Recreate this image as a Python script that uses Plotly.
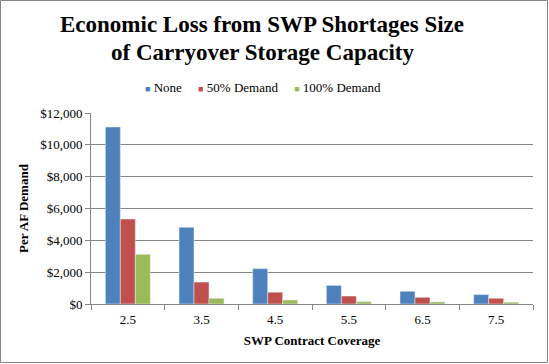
import plotly.graph_objects as go

categories = ["2.5", "3.5", "4.5", "5.5", "6.5", "7.5"]
none_vals = [11120, 4820, 2220, 1170, 800, 590]
half_vals = [5340, 1380, 740, 500, 420, 360]
full_vals = [3120, 360, 250, 150, 130, 110]
y_ticks = [0, 2000, 4000, 6000, 8000, 10000, 12000]
y_tick_labels = ["$0", "$2,000", "$4,000", "$6,000", "$8,000", "$10,000", "$12,000"]
series_names = ["None", "50% Demand", "100% Demand"]
series_colors = ["#4F81BD", "#C0504D", "#9BBB59"]

W, H = 549, 364
L, R, T, B = 91, 16, 113, 60
pw, ph = W - L - R, H - T - B

def px(x):
    return (x - L) / pw

def py(y):
    return (H - B - y) / ph

font = "Liberation Serif, Times New Roman, serif"

fig = go.Figure()
for name, vals, col in zip(series_names, [none_vals, half_vals, full_vals], series_colors):
    fig.add_bar(x=categories, y=vals, name=name, marker_color=col, showlegend=False)

legend_text = "&nbsp;&nbsp;&nbsp;&nbsp;&nbsp;".join(
    f'<span style="color:{c}; font-size:9px">■</span> {n}' for n, c in zip(series_names, series_colors)
)

annotations = [
    dict(text="<b>Economic Loss from SWP Shortages Size</b>", x=px(262), y=py(25),
         xref="paper", yref="paper", showarrow=False, xanchor="center", yanchor="middle",
         font=dict(family=font, size=23, color="black")),
    dict(text="<b>of Carryover Storage Capacity</b>", x=px(262), y=py(53),
         xref="paper", yref="paper", showarrow=False, xanchor="center", yanchor="middle",
         font=dict(family=font, size=23, color="black")),
    dict(text=legend_text, x=px(263), y=py(87),
         xref="paper", yref="paper", showarrow=False, xanchor="center", yanchor="middle",
         font=dict(family=font, size=13, color="black")),
]

fig.update_layout(
    width=W, height=H,
    margin=dict(l=L, r=R, t=T, b=B, autoexpand=False),
    paper_bgcolor="white", plot_bgcolor="white",
    font=dict(family=font, size=13, color="black"),
    barmode="group", bargap=0.39, bargroupgap=0,
    showlegend=False,
    annotations=annotations,
    shapes=[dict(type="rect", xref="paper", yref="paper",
                 x0=px(0.5), x1=px(W - 1.5), y0=py(H - 1.5), y1=py(0.5),
                 line=dict(color="#868686", width=1), layer="above")],
)
fig.update_xaxes(
    tickson="boundaries", ticks="outside", ticklen=5, tickcolor="#868686",
    showline=True, linecolor="#868686", linewidth=1,
    tickfont=dict(family=font, size=13), ticklabelstandoff=3,
    title=dict(text="<b>SWP Contract Coverage</b>", font=dict(family=font, size=13), standoff=10),
)
fig.update_yaxes(
    range=[0, 12000], tickvals=y_ticks, ticktext=y_tick_labels,
    showgrid=True, gridcolor="#868686", gridwidth=1,
    showline=True, linecolor="#868686", linewidth=1,
    ticks="outside", ticklen=5, tickcolor="#868686",
    tickfont=dict(family=font, size=13),
    title=dict(text="<b>Per AF Demand</b>", font=dict(family=font, size=13), standoff=8),
    zeroline=False,
)

fig.write_html("out.html", config={"displayModeBar": False},
               post_script="document.body.style.margin='0';document.body.style.overflow='hidden';")
